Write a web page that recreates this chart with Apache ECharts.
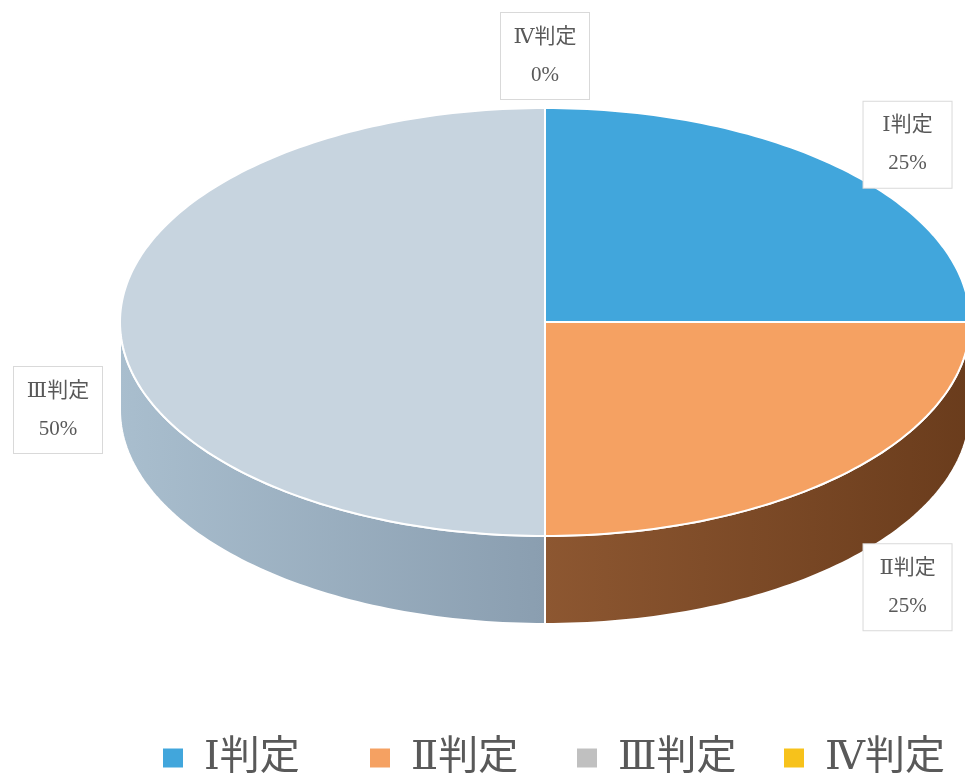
<!DOCTYPE html>
<html lang="ja">
<head>
	<meta charset="UTF-8">
	<title>判定割合</title>
	<style>
		html, body { margin: 0; padding: 0; background: #fff; }
		#main { width: 965px; height: 776px; }
	</style>
</head>
<body>
	<div id="main"></div>
	<script src="https://cdn.jsdelivr.net/npm/echarts@6/dist/echarts.min.js"></script>
	<script>
		// data
		var categories = ['Ⅰ判定', 'Ⅱ判定', 'Ⅲ判定', 'Ⅳ判定'];
		var values = [25, 25, 50, 0];

		// colours
		var topColors = ['#41a6dc', '#f5a162', '#c7d4df', '#f7c21b'];
		var sideColors = [['#2f85b5', '#236c96'], ['#8d5731', '#6a3c1c'], ['#a9bece', '#8a9eb0'], ['#c49a10', '#a07c0a']];
		var legendColors = ['#41a6dc', '#f5a162', '#c0c0c0', '#f7c21b'];

		var serif = "'Liberation Serif', 'DejaVu Serif', 'Noto Sans CJK JP', serif";

		// pie geometry (ellipse)
		var cx = 545, cy = 322, rx = 425, ry = 214, depth = 88;

		var total = values.reduce(function (a, b) { return a + b; }, 0);
		var startAng = [], endAng = [];
		var acc = 0;
		values.forEach(function (v) {
			startAng.push(acc / total * Math.PI * 2);
			acc += v;
			endAng.push(acc / total * Math.PI * 2);
		});

		function pt(a, dy) {
			return [cx + rx * Math.sin(a), cy - ry * Math.cos(a) + (dy || 0)];
		}
		function arc(a0, a1, dy) {
			var n = Math.max(2, Math.ceil(Math.abs(a1 - a0) / 0.02));
			var pts = [];
			for (var k = 0; k <= n; k++) {
				pts.push(pt(a0 + (a1 - a0) * k / n, dy));
			}
			return pts;
		}

		var myChart = echarts.init(document.getElementById('main'));

		// one legend block per category, evenly spaced like the original
		var legends = categories.map(function (name, i) {
			return {
				left: 158 + i * 207,
				bottom: -7,
				icon: 'rect',
				itemWidth: 20,
				itemHeight: 19,
				textStyle: {
					fontSize: 40,
					color: '#595959',
					fontFamily: serif,
					padding: [0, 0, 0, 16]
				},
				data: [name]
			};
		});

		var option = {
			animation: false,
			legend: legends,
			series: [
				{
					// only feeds the legend
					type: 'pie',
					name: 'legend',
					center: [-300, -300],
					radius: 1,
					silent: true,
					label: { show: false },
					labelLine: { show: false },
					data: categories.map(function (c, i) {
						return { name: c, value: values[i], itemStyle: { color: legendColors[i] } };
					})
				},
				{
					// side walls
					type: 'custom',
					name: 'side',
					coordinateSystem: 'none',
					silent: true,
					z: 1,
					data: values.map(function (v, i) { return [i, v]; }),
					renderItem: function (params, api) {
						var i = params.dataIndex;
						var s = Math.max(startAng[i], Math.PI / 2);
						var e = Math.min(endAng[i], Math.PI * 1.5);
						if (e <= s) return null;
						var pts = arc(s, e, 0).concat(arc(e, s, depth));
						return {
							type: 'polygon',
							shape: { points: pts },
							style: {
								fill: new echarts.graphic.LinearGradient(0, 0, 1, 0, [
									{ offset: 0, color: sideColors[i][0] },
									{ offset: 1, color: sideColors[i][1] }
								]),
								stroke: '#fff',
								lineWidth: 2
							}
						};
					}
				},
				{
					// top faces
					type: 'custom',
					name: 'top',
					coordinateSystem: 'none',
					silent: true,
					z: 2,
					data: values.map(function (v, i) { return [i, v]; }),
					renderItem: function (params, api) {
						var i = params.dataIndex;
						if (endAng[i] - startAng[i] <= 0) return null;
						var pts = [[cx, cy]].concat(arc(startAng[i], endAng[i], 0));
						return {
							type: 'polygon',
							shape: { points: pts },
							style: {
								fill: topColors[i],
								stroke: '#fff',
								lineWidth: 2
							}
						};
					}
				},
				{
					// data labels, outside end
					type: 'custom',
					name: 'labels',
					coordinateSystem: 'none',
					silent: true,
					z: 3,
					data: values.map(function (v, i) { return [i, v]; }),
					renderItem: function (params, api) {
						var i = params.dataIndex;
						var mid = (startAng[i] + endAng[i]) / 2;
						var s = Math.sin(mid), c = Math.cos(mid);
						var p = pt(mid, c < 0.01 ? depth : 0);
						var ox = Math.abs(s) > 1e-6 ? 62 * Math.sign(s) : 0;
						var oy = -52 * c * Math.abs(c);
						var pct = Math.round(values[i] / total * 100) + '%';
						return {
							type: 'text',
							x: p[0] + ox,
							y: p[1] + oy,
							style: {
								text: categories[i] + '\n' + pct,
								font: '21px ' + serif,
								fill: '#595959',
								align: 'center',
								verticalAlign: 'middle',
								lineHeight: 38,
								width: 64,
								backgroundColor: '#fff',
								borderColor: '#d9d9d9',
								borderWidth: 1,
								padding: [5, 12, 5, 12]
							}
						};
					}
				}
			]
		};

		myChart.setOption(option);
	</script>
</body>
</html>
